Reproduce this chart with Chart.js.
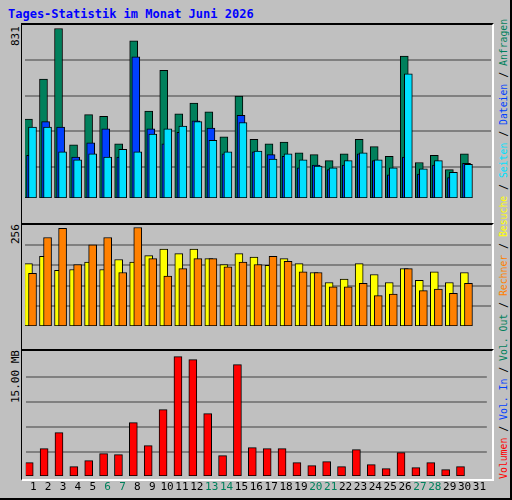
<!DOCTYPE html>
<html>
<head>
<meta charset="utf-8">
<script src="https://cdn.jsdelivr.net/npm/chart.js@4"></script>
<style>
  body { margin:0; background:#fff; }
  #frame { position:absolute; left:0; top:0; width:510px; height:498px; background:#c0c0c0;
           border-right:2px solid #000; border-bottom:2px solid #000; }
  #title { position:absolute; left:8px; top:7px; font:bold 12px "DejaVu Sans Mono", monospace; color:#0000ff; }
  .panel { position:absolute; left:21px; width:470px; border-left:1px solid #000; border-top:2px solid #000;
           border-right:2px solid #fff; border-bottom:2px solid #fff; }
  canvas { position:absolute; }
  .ylab { position:absolute; font:11px "DejaVu Sans Mono", monospace; color:#000; transform-origin:left top;
          transform:rotate(-90deg); white-space:nowrap; }
  #legend { position:absolute; left:498px; top:479px; font:9.8px "DejaVu Sans Mono", monospace; transform-origin:left top;
            transform:rotate(-90deg); white-space:nowrap; }
</style>
</head>
<body>
<div id="frame">
  <div id="title">Tages-Statistik im Monat Juni 2026</div>
  <div class="panel" style="top:23px;height:198px"></div>
  <div class="panel" style="top:223px;height:124px"></div>
  <div class="panel" style="top:349px;height:128px"></div>
  <div class="ylab" style="left:9px;top:46px">831</div>
  <div class="ylab" style="left:9px;top:244px">256</div>
  <div class="ylab" style="left:9px;top:403px">15.00 MB</div>
  <div id="legend"><span style="color:#ff0000">Volumen</span> / <span style="color:#0040ff">Vol. In</span> / <span style="color:#00805c">Vol. Out</span> / <span style="color:#ff8000">Rechner</span> / <span style="color:#ffff00">Besuche</span> / <span style="color:#00e0ff">Seiten</span> / <span style="color:#0040ff">Dateien</span> / <span style="color:#00805c">Anfragen</span></div>
  <canvas id="c1" style="left:25px;top:25px"></canvas>
  <canvas id="c2" style="left:25px;top:226px"></canvas>
  <canvas id="c3" style="left:25px;top:353px"></canvas>
</div>
<script>
// data (June 2026)
let days = [];
for (let d = 1; d <= 31; d++) days.push(d);
let weekendDays = [6, 7, 13, 14, 20, 21, 27, 28];
let anfragen = [387,583,831,261,409,400,265,770,426,626,413,465,422,300,500,287,265,274,222,213,183,217,287,252,204,696,174,209,139,217];
let dateien  = [209,374,348,200,270,339,200,692,339,265,322,378,343,217,405,226,213,204,148,161,139,161,217,183,113,200,117,161,100,170];
let seiten   = [348,348,226,187,217,200,239,226,313,339,352,374,283,226,370,230,191,217,187,157,148,183,222,187,148,609,143,183,126,165];
let besuche  = [162,181,145,147,166,147,173,166,183,200,188,200,175,160,188,179,158,175,162,139,113,122,162,134,113,149,119,141,113,139];
let rechner  = [137,230,254,160,211,230,139,256,175,130,149,175,175,154,166,160,181,168,141,139,102,102,111,79,83,149,92,96,85,111];
let volumen  = [1.63,3.34,5.30,1.14,1.87,2.73,2.61,6.52,3.71,8.11,14.58,14.22,7.62,2.49,13.61,3.46,3.34,3.34,1.63,1.26,1.75,1.14,3.22,1.39,0.90,2.85,1.02,1.63,0.77,1.14];
let grid1 = [152, 326, 500, 674];
let grid2 = [51, 104, 158, 211];
let grid3 = [2.9, 5.95, 9.0, 12.06];

function pts(values, shift) {
    return values.map((v, i) => ({ x: days[i] + shift, y: v }));
}

// order: lower number is drawn on top
function ds(values, shift, color, order) {
    return { data: pts(values, shift), backgroundColor: color, borderColor: '#000', borderWidth: 1,
             barThickness: 8, borderSkipped: false, grouped: false, order: order };
}

function makeChart(id, w, h, datasets, yMax, grid, showX) {
    let c = document.getElementById(id);
    c.width = w; c.height = h;
    c.style.width = w + 'px'; c.style.height = h + 'px';
    return new Chart(c, {
        type: 'bar',
        data: { datasets: datasets },
        options: {
            responsive: false, animation: false, devicePixelRatio: 1,
            layout: { padding: 0 },
            plugins: { legend: { display: false }, tooltip: { enabled: false } },
            scales: {
                x: {
                    type: 'linear', min: 0.5, max: 31.5, offset: false,
                    display: showX,
                    grid: { display: false, drawTicks: false }, border: { display: false },
                    afterBuildTicks: s => { s.ticks = days.map(d => ({ value: d })); },
                    afterFit: s => { s.height = 22; },
                    ticks: {
                        autoSkip: false, maxRotation: 0, padding: 5,
                        font: { family: 'DejaVu Sans Mono', size: 11 },
                        color: ctx => weekendDays.includes(ctx.tick.value) ? '#00805c' : '#000'
                    }
                },
                y: {
                    min: 0, max: yMax,
                    afterBuildTicks: s => { s.ticks = grid.map(v => ({ value: v })); },
                    afterFit: s => { s.width = 0; },
                    ticks: { display: false },
                    grid: { color: '#808080', lineWidth: 2, drawTicks: false },
                    border: { display: false }
                }
            }
        }
    });
}

makeChart('c1', 466, 195, [
    ds(anfragen, -0.27, '#00805c', 3),
    ds(dateien, -0.13, '#0040ff', 2),
    ds(seiten, 0, '#00e0ff', 1)
], 848, grid1, false);

makeChart('c2', 466, 122, [
    ds(besuche, -0.27, '#ffff00', 2),
    ds(rechner, 0, '#ff8000', 1)
], 260, grid2, false);

makeChart('c3', 466, 145, [
    ds(volumen, -0.27, '#ff0000', 1)
], 15.03, grid3, true);
</script>
</body>
</html>
